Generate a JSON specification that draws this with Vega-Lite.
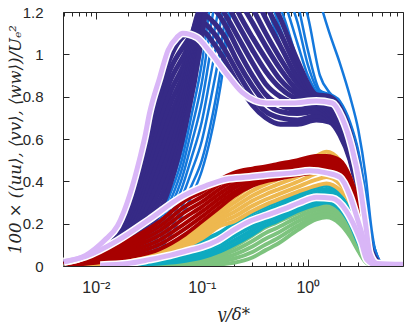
{
"$schema":"https://vega.github.io/schema/vega-lite/v6.json",
"width":340,"height":254,
"autosize":{"type":"none"},
"padding":{"left":63,"top":12,"right":4,"bottom":56},
"background":"white",
"config":{"view":{"stroke":"#262626","strokeWidth":1},
"axis":{"labelFont":"Liberation Sans","labelFontSize":15,"labelColor":"#262626","tickColor":"#262626","tickWidth":1,"domainColor":"#262626","grid":false,"zindex":1,"titleFont":"DejaVu Serif","titleFontWeight":"normal","titleFontStyle":"italic","titleFontSize":16.5,"titleColor":"#262626"}},
"datasets":{
"navy":[
{"x":0.005,"n0":0.017,"n1":0.016,"n2":0.015,"n3":0.014,"n4":0.013,"n5":0.012,"n6":0.011,"n7":0.01,"n8":0.009,"n9":0.008,"n10":0.006,"n11":0.005},
{"x":0.008,"n0":0.042,"n1":0.039,"n2":0.037,"n3":0.034,"n4":0.031,"n5":0.028,"n6":0.026,"n7":0.023,"n8":0.02,"n9":0.017,"n10":0.015,"n11":0.012},
{"x":0.012,"n0":0.095,"n1":0.089,"n2":0.082,"n3":0.076,"n4":0.07,"n5":0.063,"n6":0.057,"n7":0.051,"n8":0.044,"n9":0.038,"n10":0.031,"n11":0.025},
{"x":0.018,"n0":0.2,"n1":0.186,"n2":0.173,"n3":0.159,"n4":0.145,"n5":0.132,"n6":0.118,"n7":0.105,"n8":0.091,"n9":0.077,"n10":0.064,"n11":0.05},
{"x":0.025,"n0":0.4,"n1":0.373,"n2":0.345,"n3":0.318,"n4":0.291,"n5":0.264,"n6":0.236,"n7":0.209,"n8":0.182,"n9":0.155,"n10":0.127,"n11":0.1},
{"x":0.035,"n0":0.72,"n1":0.673,"n2":0.625,"n3":0.578,"n4":0.531,"n5":0.484,"n6":0.436,"n7":0.389,"n8":0.342,"n9":0.295,"n10":0.247,"n11":0.2},
{"x":0.05,"n0":0.98,"n1":0.925,"n2":0.871,"n3":0.816,"n4":0.762,"n5":0.707,"n6":0.653,"n7":0.598,"n8":0.544,"n9":0.489,"n10":0.435,"n11":0.38},
{"x":0.07,"n0":1.09,"n1":1.05,"n2":1.01,"n3":0.97,"n4":0.93,"n5":0.89,"n6":0.86,"n7":0.82,"n8":0.78,"n9":0.74,"n10":0.7,"n11":0.66},
{"x":0.1,"n0":1.11,"n1":1.15,"n2":1.19,"n3":1.22,"n4":1.22,"n5":1.2,"n6":1.18,"n7":1.16,"n8":1.14,"n9":1.12,"n10":1.1,"n11":1.08},
{"x":0.13,"n0":1.05,"n1":1.1,"n2":1.15,"n3":1.21,"n4":1.26,"n5":1.3,"n6":1.35,"n7":1.4,"n8":1.42,"n9":1.45,"n10":1.47,"n11":1.5},
{"x":0.17,"n0":0.96,"n1":1.01,"n2":1.07,"n3":1.13,"n4":1.18,"n5":1.24,"n6":1.32,"n7":1.4,"n8":1.48,"n9":1.55,"n10":1.6,"n11":1.65},
{"x":0.22,"n0":0.86,"n1":0.91,"n2":0.96,"n3":1.02,"n4":1.08,"n5":1.14,"n6":1.2,"n7":1.27,"n8":1.35,"n9":1.45,"n10":1.55,"n11":1.65},
{"x":0.3,"n0":0.76,"n1":0.8,"n2":0.85,"n3":0.9,"n4":0.96,"n5":1.02,"n6":1.08,"n7":1.15,"n8":1.22,"n9":1.3,"n10":1.4,"n11":1.5},
{"x":0.4,"n0":0.7,"n1":0.73,"n2":0.77,"n3":0.81,"n4":0.86,"n5":0.92,"n6":0.98,"n7":1.04,"n8":1.1,"n9":1.17,"n10":1.24,"n11":1.32},
{"x":0.55,"n0":0.67,"n1":0.7,"n2":0.73,"n3":0.76,"n4":0.8,"n5":0.84,"n6":0.88,"n7":0.93,"n8":0.98,"n9":1.04,"n10":1.1,"n11":1.17},
{"x":0.8,"n0":0.67,"n1":0.69,"n2":0.72,"n3":0.74,"n4":0.77,"n5":0.79,"n6":0.81,"n7":0.83,"n8":0.86,"n9":0.89,"n10":0.93,"n11":0.97},
{"x":1.2,"n0":0.69,"n1":0.71,"n2":0.73,"n3":0.75,"n4":0.77,"n5":0.78,"n6":0.785,"n7":0.79,"n8":0.795,"n9":0.8,"n10":0.8,"n11":0.81},
{"x":1.6,"n0":0.68,"n1":0.69,"n2":0.7,"n3":0.71,"n4":0.72,"n5":0.735,"n6":0.745,"n7":0.755,"n8":0.765,"n9":0.78,"n10":0.79,"n11":0.8},
{"x":2,"n0":0.62,"n1":0.63,"n2":0.64,"n3":0.655,"n4":0.665,"n5":0.68,"n6":0.69,"n7":0.7,"n8":0.71,"n9":0.725,"n10":0.735,"n11":0.75},
{"x":2.5,"n0":0.5,"n1":0.51,"n2":0.52,"n3":0.535,"n4":0.545,"n5":0.56,"n6":0.57,"n7":0.58,"n8":0.59,"n9":0.605,"n10":0.615,"n11":0.63},
{"x":3,"n0":0.33,"n1":0.34,"n2":0.35,"n3":0.365,"n4":0.375,"n5":0.39,"n6":0.4,"n7":0.41,"n8":0.42,"n9":0.435,"n10":0.445,"n11":0.46},
{"x":3.5,"n0":0.13,"n1":0.14,"n2":0.15,"n3":0.16,"n4":0.17,"n5":0.18,"n6":0.19,"n7":0.2,"n8":0.21,"n9":0.22,"n10":0.23,"n11":0.24},
{"x":4,"n0":0.03,"n1":0.034,"n2":0.037,"n3":0.041,"n4":0.045,"n5":0.048,"n6":0.052,"n7":0.055,"n8":0.059,"n9":0.062,"n10":0.066,"n11":0.07},
{"x":5,"n0":0.01,"n1":0.01,"n2":0.01,"n3":0.01,"n4":0.01,"n5":0.01,"n6":0.01,"n7":0.01,"n8":0.01,"n9":0.01,"n10":0.01,"n11":0.01},
{"x":7.9,"n0":0.005,"n1":0.005,"n2":0.005,"n3":0.005,"n4":0.005,"n5":0.005,"n6":0.005,"n7":0.005,"n8":0.005,"n9":0.005,"n10":0.005,"n11":0.005}
],
"blue":[
{"x":0.005,"b0":0.002,"b1":0.002,"b2":0.002,"b3":0.002,"b4":0.001,"b5":0.001,"b6":0.001,"b7":0.001},
{"x":0.01,"b0":0.01,"b1":0.009,"b2":0.008,"b3":0.007,"b4":0.006,"b5":0.005,"b6":0.004,"b7":0.003},
{"x":0.02,"b0":0.05,"b1":0.045,"b2":0.04,"b3":0.035,"b4":0.03,"b5":0.025,"b6":0.02,"b7":0.015},
{"x":0.03,"b0":0.13,"b1":0.117,"b2":0.103,"b3":0.09,"b4":0.077,"b5":0.063,"b6":0.05,"b7":0.04},
{"x":0.04,"b0":0.24,"b1":0.217,"b2":0.193,"b3":0.17,"b4":0.147,"b5":0.123,"b6":0.1,"b7":0.08},
{"x":0.05,"b0":0.37,"b1":0.337,"b2":0.303,"b3":0.27,"b4":0.237,"b5":0.203,"b6":0.17,"b7":0.14},
{"x":0.065,"b0":0.55,"b1":0.505,"b2":0.46,"b3":0.415,"b4":0.37,"b5":0.325,"b6":0.28,"b7":0.24},
{"x":0.08,"b0":0.78,"b1":0.713,"b2":0.647,"b3":0.58,"b4":0.513,"b5":0.447,"b6":0.38,"b7":0.33},
{"x":0.1,"b0":1.05,"b1":0.958,"b2":0.867,"b3":0.775,"b4":0.683,"b5":0.592,"b6":0.5,"b7":0.45},
{"x":0.12,"b0":1.35,"b1":1.235,"b2":1.12,"b3":1.005,"b4":0.89,"b5":0.775,"b6":0.66,"b7":0.6},
{"x":0.15,"b0":1.6,"b1":1.49,"b2":1.37,"b3":1.26,"b4":1.15,"b5":1.03,"b6":0.92,"b7":0.85},
{"x":0.2,"b0":1.75,"b1":1.7,"b2":1.62,"b3":1.55,"b4":1.48,"b5":1.42,"b6":1.35,"b7":1.3},
{"x":0.3,"b0":1.45,"b1":1.55,"b2":1.6,"b3":1.65,"b4":1.7,"b5":1.75,"b6":1.8,"b7":1.8},
{"x":0.45,"b0":1.17,"b1":1.25,"b2":1.32,"b3":1.4,"b4":1.48,"b5":1.55,"b6":1.62,"b7":1.9},
{"x":0.6,"b0":1.0,"b1":1.07,"b2":1.17,"b3":1.25,"b4":1.32,"b5":1.4,"b6":1.48,"b7":1.85},
{"x":0.8,"b0":0.88,"b1":0.92,"b2":0.97,"b3":1.05,"b4":1.15,"b5":1.24,"b6":1.33,"b7":1.7},
{"x":1,"b0":0.83,"b1":0.85,"b2":0.87,"b3":0.9,"b4":0.95,"b5":1.02,"b6":1.18,"b7":1.5},
{"x":1.3,"b0":0.8,"b1":0.8,"b2":0.81,"b3":0.81,"b4":0.82,"b5":0.83,"b6":0.9,"b7":1.25},
{"x":1.6,"b0":0.79,"b1":0.795,"b2":0.8,"b3":0.8,"b4":0.805,"b5":0.81,"b6":0.82,"b7":1.1},
{"x":2,"b0":0.74,"b1":0.75,"b2":0.76,"b3":0.765,"b4":0.77,"b5":0.775,"b6":0.78,"b7":0.96},
{"x":2.5,"b0":0.63,"b1":0.64,"b2":0.65,"b3":0.66,"b4":0.665,"b5":0.67,"b6":0.68,"b7":0.8},
{"x":3,"b0":0.48,"b1":0.49,"b2":0.5,"b3":0.51,"b4":0.52,"b5":0.53,"b6":0.54,"b7":0.64},
{"x":3.5,"b0":0.28,"b1":0.29,"b2":0.3,"b3":0.31,"b4":0.32,"b5":0.33,"b6":0.34,"b7":0.43},
{"x":4,"b0":0.1,"b1":0.11,"b2":0.115,"b3":0.12,"b4":0.13,"b5":0.135,"b6":0.14,"b7":0.17},
{"x":4.5,"b0":0.03,"b1":0.035,"b2":0.04,"b3":0.04,"b4":0.045,"b5":0.05,"b6":0.05,"b7":0.04},
{"x":5,"b0":0.012,"b1":0.012,"b2":0.012,"b3":0.013,"b4":0.013,"b5":0.014,"b6":0.014,"b7":0.015},
{"x":7.9,"b0":0.005,"b1":0.005,"b2":0.005,"b3":0.005,"b4":0.005,"b5":0.005,"b6":0.005,"b7":0.005}
],
"low":[
{"x":0.005,"r0":0.012,"r1":0.011,"r2":0.009,"r3":0.008,"r4":0.007,"r5":0.005,"r6":0.004,"o0":0.004,"o1":0.004,"o2":0.004,"o3":0.003,"o4":0.003,"o5":0.003,"t0":0.005,"t1":0.004,"t2":0.004,"t3":0.003,"t4":0.003,"t5":0.002,"g0":0.001,"g1":0.001,"g2":0.001,"g3":0.001,"g4":0.001,"g5":0.001},
{"x":0.01,"r0":0.05,"r1":0.044,"r2":0.038,"r3":0.033,"r4":0.027,"r5":0.021,"r6":0.015,"o0":0.012,"o1":0.011,"o2":0.0095,"o3":0.0085,"o4":0.007,"o5":0.006,"t0":0.007,"t1":0.006,"t2":0.005,"t3":0.005,"t4":0.004,"t5":0.003,"g0":0.002,"g1":0.002,"g2":0.0015,"g3":0.0015,"g4":0.001,"g5":0.001},
{"x":0.02,"r0":0.12,"r1":0.107,"r2":0.093,"r3":0.08,"r4":0.067,"r5":0.053,"r6":0.04,"o0":0.035,"o1":0.031,"o2":0.027,"o3":0.023,"o4":0.019,"o5":0.015,"t0":0.015,"t1":0.013,"t2":0.011,"t3":0.009,"t4":0.007,"t5":0.005,"g0":0.004,"g1":0.0034,"g2":0.0028,"g3":0.0022,"g4":0.0016,"g5":0.001},
{"x":0.04,"r0":0.21,"r1":0.188,"r2":0.167,"r3":0.145,"r4":0.123,"r5":0.102,"r6":0.08,"o0":0.075,"o1":0.068,"o2":0.061,"o3":0.054,"o4":0.047,"o5":0.04,"t0":0.04,"t1":0.034,"t2":0.029,"t3":0.023,"t4":0.018,"t5":0.012,"g0":0.01,"g1":0.0082,"g2":0.0064,"g3":0.0046,"g4":0.0028,"g5":0.001},
{"x":0.07,"r0":0.31,"r1":0.283,"r2":0.257,"r3":0.23,"r4":0.203,"r5":0.177,"r6":0.15,"o0":0.14,"o1":0.13,"o2":0.12,"o3":0.11,"o4":0.1,"o5":0.09,"t0":0.08,"t1":0.069,"t2":0.058,"t3":0.047,"t4":0.036,"t5":0.025,"g0":0.025,"g1":0.0204,"g2":0.0158,"g3":0.0112,"g4":0.0066,"g5":0.002},
{"x":0.1,"r0":0.35,"r1":0.327,"r2":0.303,"r3":0.28,"r4":0.257,"r5":0.233,"r6":0.21,"o0":0.2,"o1":0.186,"o2":0.172,"o3":0.158,"o4":0.144,"o5":0.13,"t0":0.12,"t1":0.104,"t2":0.088,"t3":0.072,"t4":0.056,"t5":0.04,"g0":0.04,"g1":0.0326,"g2":0.0252,"g3":0.0178,"g4":0.0104,"g5":0.003},
{"x":0.15,"r0":0.41,"r1":0.388,"r2":0.367,"r3":0.345,"r4":0.323,"r5":0.302,"r6":0.28,"o0":0.27,"o1":0.254,"o2":0.238,"o3":0.222,"o4":0.206,"o5":0.19,"t0":0.16,"t1":0.142,"t2":0.124,"t3":0.106,"t4":0.088,"t5":0.07,"g0":0.075,"g1":0.0616,"g2":0.0482,"g3":0.0348,"g4":0.0214,"g5":0.008},
{"x":0.2,"r0":0.44,"r1":0.422,"r2":0.403,"r3":0.385,"r4":0.367,"r5":0.348,"r6":0.33,"o0":0.32,"o1":0.298,"o2":0.276,"o3":0.254,"o4":0.232,"o5":0.21,"t0":0.2,"t1":0.18,"t2":0.16,"t3":0.14,"t4":0.12,"t5":0.1,"g0":0.11,"g1":0.091,"g2":0.072,"g3":0.053,"g4":0.034,"g5":0.015},
{"x":0.3,"r0":0.46,"r1":0.447,"r2":0.433,"r3":0.42,"r4":0.407,"r5":0.393,"r6":0.38,"o0":0.38,"o1":0.356,"o2":0.332,"o3":0.308,"o4":0.284,"o5":0.26,"t0":0.25,"t1":0.23,"t2":0.21,"t3":0.19,"t4":0.17,"t5":0.15,"g0":0.17,"g1":0.144,"g2":0.118,"g3":0.092,"g4":0.066,"g5":0.04},
{"x":0.4,"r0":0.47,"r1":0.458,"r2":0.447,"r3":0.435,"r4":0.423,"r5":0.412,"r6":0.4,"o0":0.41,"o1":0.386,"o2":0.362,"o3":0.338,"o4":0.314,"o5":0.29,"t0":0.28,"t1":0.262,"t2":0.244,"t3":0.226,"t4":0.208,"t5":0.19,"g0":0.21,"g1":0.183,"g2":0.156,"g3":0.129,"g4":0.102,"g5":0.075},
{"x":0.5,"r0":0.48,"r1":0.468,"r2":0.457,"r3":0.445,"r4":0.433,"r5":0.422,"r6":0.41,"o0":0.43,"o1":0.406,"o2":0.382,"o3":0.358,"o4":0.334,"o5":0.31,"t0":0.3,"t1":0.282,"t2":0.264,"t3":0.246,"t4":0.228,"t5":0.21,"g0":0.23,"g1":0.204,"g2":0.178,"g3":0.152,"g4":0.126,"g5":0.1},
{"x":0.8,"r0":0.5,"r1":0.488,"r2":0.477,"r3":0.465,"r4":0.453,"r5":0.442,"r6":0.43,"o0":0.47,"o1":0.446,"o2":0.422,"o3":0.398,"o4":0.374,"o5":0.35,"t0":0.34,"t1":0.324,"t2":0.308,"t3":0.292,"t4":0.276,"t5":0.26,"g0":0.27,"g1":0.25,"g2":0.23,"g3":0.21,"g4":0.19,"g5":0.17},
{"x":1.2,"r0":0.52,"r1":0.507,"r2":0.493,"r3":0.48,"r4":0.467,"r5":0.453,"r6":0.44,"o0":0.52,"o1":0.492,"o2":0.464,"o3":0.436,"o4":0.408,"o5":0.38,"t0":0.37,"t1":0.354,"t2":0.338,"t3":0.322,"t4":0.306,"t5":0.29,"g0":0.295,"g1":0.28,"g2":0.265,"g3":0.25,"g4":0.235,"g5":0.22},
{"x":1.5,"r0":0.52,"r1":0.507,"r2":0.493,"r3":0.48,"r4":0.467,"r5":0.453,"r6":0.44,"o0":0.54,"o1":0.51,"o2":0.48,"o3":0.45,"o4":0.42,"o5":0.39,"t0":0.38,"t1":0.364,"t2":0.348,"t3":0.332,"t4":0.316,"t5":0.3,"g0":0.3,"g1":0.286,"g2":0.272,"g3":0.258,"g4":0.244,"g5":0.23},
{"x":2,"r0":0.5,"r1":0.487,"r2":0.473,"r3":0.46,"r4":0.447,"r5":0.433,"r6":0.42,"o0":0.5,"o1":0.472,"o2":0.444,"o3":0.416,"o4":0.388,"o5":0.36,"t0":0.34,"t1":0.326,"t2":0.312,"t3":0.298,"t4":0.284,"t5":0.27,"g0":0.27,"g1":0.256,"g2":0.242,"g3":0.228,"g4":0.214,"g5":0.2},
{"x":2.5,"r0":0.42,"r1":0.41,"r2":0.4,"r3":0.39,"r4":0.38,"r5":0.37,"r6":0.36,"o0":0.42,"o1":0.396,"o2":0.372,"o3":0.348,"o4":0.324,"o5":0.3,"t0":0.26,"t1":0.248,"t2":0.236,"t3":0.224,"t4":0.212,"t5":0.2,"g0":0.2,"g1":0.188,"g2":0.176,"g3":0.164,"g4":0.152,"g5":0.14},
{"x":3,"r0":0.3,"r1":0.29,"r2":0.28,"r3":0.27,"r4":0.26,"r5":0.25,"r6":0.24,"o0":0.29,"o1":0.272,"o2":0.254,"o3":0.236,"o4":0.218,"o5":0.2,"t0":0.15,"t1":0.142,"t2":0.134,"t3":0.126,"t4":0.118,"t5":0.11,"g0":0.1,"g1":0.094,"g2":0.088,"g3":0.082,"g4":0.076,"g5":0.07},
{"x":3.5,"r0":0.15,"r1":0.142,"r2":0.133,"r3":0.125,"r4":0.117,"r5":0.108,"r6":0.1,"o0":0.13,"o1":0.12,"o2":0.11,"o3":0.1,"o4":0.09,"o5":0.08,"t0":0.05,"t1":0.048,"t2":0.046,"t3":0.044,"t4":0.042,"t5":0.04,"g0":0.03,"g1":0.028,"g2":0.026,"g3":0.024,"g4":0.022,"g5":0.02},
{"x":4,"r0":0.03,"r1":0.028,"r2":0.027,"r3":0.025,"r4":0.023,"r5":0.022,"r6":0.02,"o0":0.03,"o1":0.028,"o2":0.026,"o3":0.024,"o4":0.022,"o5":0.02,"t0":0.01,"t1":0.01,"t2":0.01,"t3":0.01,"t4":0.01,"t5":0.01,"g0":0.008,"g1":0.007,"g2":0.007,"g3":0.006,"g4":0.006,"g5":0.005},
{"x":5,"r0":0.005,"r1":0.005,"r2":0.005,"r3":0.005,"r4":0.005,"r5":0.005,"r6":0.005,"o0":0.005,"o1":0.005,"o2":0.005,"o3":0.005,"o4":0.005,"o5":0.005,"t0":0.005,"t1":0.005,"t2":0.005,"t3":0.005,"t4":0.005,"t5":0.005,"g0":0.004,"g1":0.004,"g2":0.004,"g3":0.004,"g4":0.004,"g5":0.004},
{"x":7.9,"r0":0.003,"r1":0.003,"r2":0.003,"r3":0.003,"r4":0.003,"r5":0.003,"r6":0.003,"o0":0.003,"o1":0.003,"o2":0.003,"o3":0.003,"o4":0.003,"o5":0.003,"t0":0.003,"t1":0.003,"t2":0.003,"t3":0.003,"t4":0.003,"t5":0.003,"g0":0.003,"g1":0.003,"g2":0.003,"g3":0.003,"g4":0.003,"g5":0.003}
],
"lav":[
{"s":"uu","x":0.005,"y":0.02},{"s":"uu","x":0.008,"y":0.05},{"s":"uu","x":0.012,"y":0.12},{"s":"uu","x":0.016,"y":0.19},{"s":"uu","x":0.021,"y":0.34},{"s":"uu","x":0.026,"y":0.51},{"s":"uu","x":0.029,"y":0.61},{"s":"uu","x":0.032,"y":0.72},{"s":"uu","x":0.04,"y":0.89},{"s":"uu","x":0.048,"y":1.02},{"s":"uu","x":0.058,"y":1.08},{"s":"uu","x":0.066,"y":1.1},{"s":"uu","x":0.09,"y":1.08},{"s":"uu","x":0.12,"y":1.01},{"s":"uu","x":0.17,"y":0.91},{"s":"uu","x":0.24,"y":0.82},{"s":"uu","x":0.41,"y":0.77},{"s":"uu","x":0.72,"y":0.77},{"s":"uu","x":1.2,"y":0.78},{"s":"uu","x":1.7,"y":0.77},{"s":"uu","x":2.1,"y":0.7},{"s":"uu","x":2.6,"y":0.56},{"s":"uu","x":3.1,"y":0.38},{"s":"uu","x":3.5,"y":0.2},{"s":"uu","x":3.85,"y":0.06},{"s":"uu","x":4.5,"y":0.012},{"s":"uu","x":7.9,"y":0.008},
{"s":"vv","x":0.005,"y":0.02},{"s":"vv","x":0.008,"y":0.045},{"s":"vv","x":0.016,"y":0.12},{"s":"vv","x":0.032,"y":0.22},{"s":"vv","x":0.066,"y":0.33},{"s":"vv","x":0.11,"y":0.38},{"s":"vv","x":0.17,"y":0.41},{"s":"vv","x":0.28,"y":0.42},{"s":"vv","x":0.41,"y":0.43},{"s":"vv","x":0.72,"y":0.44},{"s":"vv","x":1.04,"y":0.45},{"s":"vv","x":1.5,"y":0.44},{"s":"vv","x":2,"y":0.42},{"s":"vv","x":2.5,"y":0.33},{"s":"vv","x":2.9,"y":0.23},{"s":"vv","x":3.3,"y":0.14},{"s":"vv","x":3.7,"y":0.05},{"s":"vv","x":4.8,"y":0.006},{"s":"vv","x":7.9,"y":0.004},
{"s":"ww","x":0.011,"y":0.004},{"s":"ww","x":0.02,"y":0.012},{"s":"ww","x":0.032,"y":0.03},{"s":"ww","x":0.05,"y":0.05},{"s":"ww","x":0.077,"y":0.075},{"s":"ww","x":0.1,"y":0.09},{"s":"ww","x":0.14,"y":0.12},{"s":"ww","x":0.2,"y":0.17},{"s":"ww","x":0.28,"y":0.21},{"s":"ww","x":0.41,"y":0.24},{"s":"ww","x":0.6,"y":0.27},{"s":"ww","x":0.84,"y":0.3},{"s":"ww","x":1.2,"y":0.325},{"s":"ww","x":1.7,"y":0.32},{"s":"ww","x":2.3,"y":0.26},{"s":"ww","x":2.8,"y":0.18},{"s":"ww","x":3.2,"y":0.11},{"s":"ww","x":3.6,"y":0.03},{"s":"ww","x":4.4,"y":0.005},{"s":"ww","x":7.9,"y":0.003}
]
},
"layer":[
{"data":{"name":"blue"},"transform":[{"fold":["b0","b1","b2","b3","b4","b5","b6","b7"],"as":["k","v"]}],
 "mark":{"type":"line","clip":true,"strokeWidth":2.5,"color":"#1478DC","interpolate":"monotone"},
 "encoding":{"x":{"field":"x","type":"quantitative","scale":{"type":"log","domain":[0.0049,7.9],"nice":false},
   "axis":{"orient":"bottom","values":[0.005,0.006,0.007,0.008,0.009,0.01,0.02,0.03,0.04,0.05,0.06,0.07,0.08,0.09,0.1,0.2,0.3,0.4,0.5,0.6,0.7,0.8,0.9,1,2,3,4,5,6,7],
     "labelExpr":"datum.value === 0.01 ? '10⁻²' : datum.value === 0.1 ? '10⁻¹' : datum.value === 1 ? '10⁰' : ''",
     "labelOverlap":false,"labelFlush":false,"domain":false,"labelFontSize":16,
     "tickSize":{"condition":{"test":"datum.value === 0.01 || datum.value === 0.1 || datum.value === 1","value":-7},"value":-4},
     "labelPadding":20,"title":"y/δ*","titlePadding":8}},
  "y":{"field":"v","type":"quantitative","scale":{"domain":[0,1.2],"nice":false},
   "axis":{"orient":"left","values":[0,0.2,0.4,0.6,0.8,1,1.2],"format":"~g","tickSize":-6,"labelPadding":26,"domain":false,
     "title":"100 × (⟨uu⟩, ⟨vv⟩, ⟨ww⟩)/Uₑ²","titleX":-48,"titleY":127,"titleAngle":270,"titleAlign":"center","titleBaseline":"middle"}},
  "detail":{"field":"k"}}},
{"data":{"name":"navy"},"transform":[{"fold":["n0","n1","n2","n3","n4","n5","n6","n7","n8","n9","n10","n11"],"as":["k","v"]}],
 "mark":{"type":"line","clip":true,"strokeWidth":5,"color":"#362A86","interpolate":"monotone"},
 "encoding":{"x":{"field":"x","type":"quantitative","axis":null},"y":{"field":"v","type":"quantitative","axis":null},"detail":{"field":"k"}}},
{"data":{"name":"low"},"transform":[{"fold":["g0","g1","g2","g3","g4","g5"],"as":["k","v"]}],
 "mark":{"type":"line","clip":true,"strokeWidth":4,"color":"#7DC37E","interpolate":"monotone"},
 "encoding":{"x":{"field":"x","type":"quantitative","axis":null},"y":{"field":"v","type":"quantitative","axis":null},"detail":{"field":"k"}}},
{"data":{"name":"low"},"transform":[{"fold":["t0","t1","t2","t3","t4","t5"],"as":["k","v"]}],
 "mark":{"type":"line","clip":true,"strokeWidth":4,"color":"#0EAAC0","interpolate":"monotone"},
 "encoding":{"x":{"field":"x","type":"quantitative","axis":null},"y":{"field":"v","type":"quantitative","axis":null},"detail":{"field":"k"}}},
{"data":{"name":"low"},"transform":[{"fold":["o0","o1","o2","o3","o4","o5"],"as":["k","v"]}],
 "mark":{"type":"line","clip":true,"strokeWidth":4,"color":"#EEB84F","interpolate":"monotone"},
 "encoding":{"x":{"field":"x","type":"quantitative","axis":null},"y":{"field":"v","type":"quantitative","axis":null},"detail":{"field":"k"}}},
{"data":{"name":"low"},"transform":[{"fold":["r0","r1","r2","r3","r4","r5","r6"],"as":["k","v"]}],
 "mark":{"type":"line","clip":true,"strokeWidth":4,"color":"#A80000","interpolate":"monotone"},
 "encoding":{"x":{"field":"x","type":"quantitative","axis":null},"y":{"field":"v","type":"quantitative","axis":null},"detail":{"field":"k"}}},
{"data":{"name":"lav"},
 "mark":{"type":"line","clip":true,"strokeWidth":8,"color":"white","interpolate":"monotone"},
 "encoding":{"x":{"field":"x","type":"quantitative","axis":null},"y":{"field":"y","type":"quantitative","axis":null},"detail":{"field":"s"}}},
{"data":{"name":"lav"},
 "mark":{"type":"line","clip":true,"strokeWidth":5,"color":"#D9B6F7","interpolate":"monotone"},
 "encoding":{"x":{"field":"x","type":"quantitative","axis":{"orient":"top","values":[0.005,0.006,0.007,0.008,0.009,0.01,0.02,0.03,0.04,0.05,0.06,0.07,0.08,0.09,0.1,0.2,0.3,0.4,0.5,0.6,0.7,0.8,0.9,1,2,3,4,5,6,7],"labels":false,"title":null,"domain":false,
     "tickSize":{"condition":{"test":"datum.value === 0.01 || datum.value === 0.1 || datum.value === 1","value":-7},"value":-4}}},
  "y":{"field":"y","type":"quantitative","axis":{"orient":"right","values":[0,0.2,0.4,0.6,0.8,1,1.2],"labels":false,"title":null,"domain":false,"tickSize":-6}},
  "detail":{"field":"s"}}}
],
"resolve":{"axis":{"x":"independent","y":"independent"}}
}
